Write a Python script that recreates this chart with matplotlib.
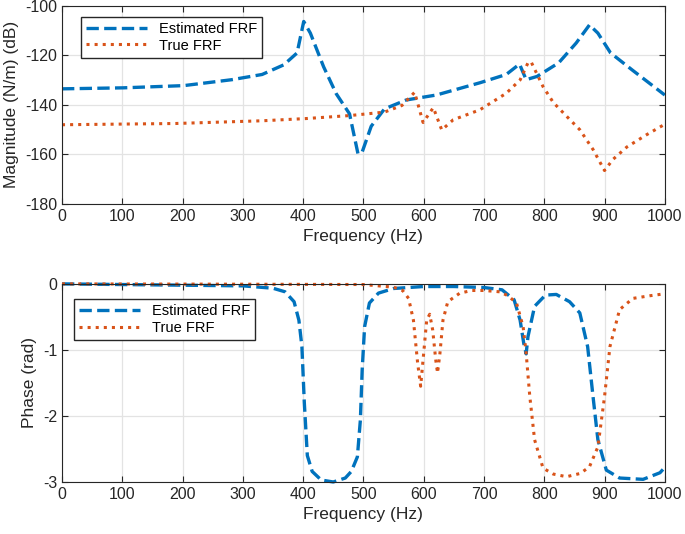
import matplotlib
matplotlib.use('Agg')
import matplotlib.pyplot as plt

plt.rcParams['font.family'] = ['Liberation Sans', 'DejaVu Sans']
plt.rcParams['axes.unicode_minus'] = False

# Magnitude, estimated FRF (dB)
f_mag_est = [0, 101, 202, 282, 332, 368, 390, 401, 412, 434, 455, 477, 491, 498,
             513, 535, 571, 621, 694, 737, 759, 770, 788, 824, 853, 875, 889, 910,
             946, 1000]
mag_est = [-133.5, -133.1, -132.2, -129.8, -127.7, -123.8, -119, -106.3, -111, -124.6,
           -135.5, -143.6, -159.7, -159, -148.6, -141.6, -138, -136, -131, -127.7,
           -123.5, -129.8, -128.5, -123, -115, -107.7, -111, -119, -125.9, -136]

# Magnitude, true FRF (dB)
f_mag_true = [0, 188, 332, 405, 477, 535, 564, 585, 599, 616, 630, 649, 693, 737,
              760, 773, 778, 798, 815, 838, 859, 881, 900, 914, 937, 970, 1000]
mag_true = [-148, -147.5, -146.4, -145.5, -144.3, -142.9, -140.2, -134.9, -147.1,
            -141.1, -150.1, -146, -142, -135.3, -129.9, -123, -122.5, -132.6, -139,
            -144.8, -150, -158, -166.5, -162, -157, -152, -147.8]

# Phase, estimated FRF (rad)
f_ph_est = [0, 300, 350, 370, 385, 393, 398, 402, 407, 415, 430, 450, 470, 480, 490,
            495, 498, 502, 510, 525, 550, 600, 650, 700, 730, 750, 760, 766, 770,
            773, 784, 802, 820, 842, 859, 872, 881, 889, 903, 925, 964, 992, 1000]
ph_est = [0, -0.03, -0.066, -0.12, -0.27, -0.55, -0.95, -1.8, -2.6, -2.84, -2.97,
          -3.0, -2.94, -2.84, -2.62, -2.06, -1.3, -0.65, -0.29, -0.14, -0.07, -0.04,
          -0.04, -0.055, -0.09, -0.24, -0.55, -0.9, -1.06, -0.8, -0.34, -0.17, -0.16,
          -0.27, -0.44, -0.95, -1.71, -2.36, -2.82, -2.94, -2.96, -2.86, -2.78]

# Phase, true FRF (rad)
f_ph_true = [0, 300, 500, 550, 565, 575, 583, 590, 595, 600, 605, 610, 615, 620, 623,
             627, 632, 640, 660, 680, 700, 726, 740, 754, 765, 770, 776, 784, 798,
             815, 837, 860, 875, 889, 900, 909, 925, 947, 975, 1000]
ph_true = [0, -0.005, -0.01, -0.05, -0.1, -0.22, -0.55, -1.2, -1.55, -1.05, -0.55,
           -0.46, -0.7, -1.15, -1.35, -1.05, -0.55, -0.27, -0.14, -0.1, -0.1, -0.12,
           -0.18, -0.29, -0.65, -1.05, -1.7, -2.36, -2.79, -2.88, -2.92, -2.87, -2.77,
           -2.47, -1.71, -0.95, -0.39, -0.22, -0.18, -0.15]

blue = '#0072BD'
orange = '#D95319'

fig = plt.figure(figsize=(6.85, 5.34), dpi=100)
ax1 = fig.add_axes([0.0905, 0.618, 0.880, 0.371])
ax2 = fig.add_axes([0.0905, 0.0974, 0.880, 0.371])


def style(ax):
    ax.set_xlim(0, 1000)
    ax.set_xticks(range(0, 1001, 100))
    ax.grid(True, color='#e3e3e3', linewidth=0.9)
    ax.set_axisbelow(True)
    ax.tick_params(direction='in', top=True, right=True, length=4,
                   labelsize=11.5, color='#262626', labelcolor='#262626')
    for s in ax.spines.values():
        s.set_color('#262626')
        s.set_linewidth(0.8)
    ax.set_xlabel('Frequency (Hz)', fontsize=12.5, color='#262626')


leg_kw = dict(loc='upper left', borderaxespad=0, fontsize=10.5, fancybox=False,
              edgecolor='#262626', framealpha=1, handlelength=4.2,
              borderpad=0.35, labelspacing=0.2)

# Magnitude
ax1.plot(f_mag_est, mag_est, '--', color=blue, lw=2.4, label='Estimated FRF')
ax1.plot(f_mag_true, mag_true, ':', color=orange, lw=2.2, label='True FRF')
style(ax1)
ax1.set_ylim(-180, -100)
ax1.set_yticks(range(-180, -99, 20))
ax1.set_ylabel('Magnitude (N/m) (dB)', fontsize=12.5, color='#262626')
ax1.legend(bbox_to_anchor=(0.031, 0.946), **leg_kw)

# Phase
ax2.plot(f_ph_est, ph_est, '--', color=blue, lw=2.4, label='Estimated FRF', clip_on=False)
ax2.plot(f_ph_true, ph_true, ':', color=orange, lw=2.2, label='True FRF', clip_on=False)
style(ax2)
ax2.set_ylim(-3, 0)
ax2.set_yticks([-3, -2, -1, 0])
ax2.set_ylabel('Phase (rad)', fontsize=12.5, color='#262626')
ax2.legend(bbox_to_anchor=(0.02, 0.923), **leg_kw)

fig.savefig('out.png', dpi=100)
